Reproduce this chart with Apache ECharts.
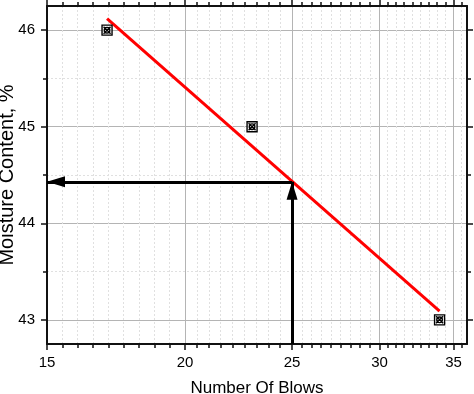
<!DOCTYPE html>
<html>
<head>
<meta charset="utf-8">
<script src="https://cdn.jsdelivr.net/npm/echarts@6/dist/echarts.min.js"></script>
<style>
  html, body { margin: 0; padding: 0; background: #fff; }
  #chart { width: 474px; height: 394px; }
</style>
</head>
<body>
<div id="chart"></div>
<script>
// measured points
const blows = [17, 23, 34];
const moisture = [46, 45, 43];
// fitted line (semi-log) end points
const fitBlows = [17, 34];
const fitMoisture = [46.12, 43.09];
// reading at 25 blows
const readBlows = 25;
const readMoisture = 44.43;

const xTicks = [15, 20, 25, 30, 35];
const yTicks = [43, 44, 45, 46];
const yMinorTicks = [43.5, 44.5, 45.5];
const xMin = 15, xMax = 36;
const yMin = 42.75, yMax = 46.25;

const lx = v => Math.log(v);

// minor x ticks: 8 per major interval, even on the log scale
const xMinor = [];
for (let i = 0; i < xTicks.length - 1; i++) {
  const a = lx(xTicks[i]), b = lx(xTicks[i + 1]);
  for (let k = 1; k <= 8; k++) xMinor.push(a + (b - a) * k / 9);
}
const lastStep = (lx(35) - lx(30)) / 9;
for (let v = lx(35) + lastStep; v < lx(xMax); v += lastStep) xMinor.push(v);

const font = 'Liberation Sans, Arial, sans-serif';
const axisLine = { show: true, lineStyle: { color: '#111', width: 2 } };

function xAxisOf(pos, values, major) {
  return {
    type: 'value', position: pos, min: lx(xMin), max: lx(xMax),
    axisLine: major ? axisLine : { show: false },
    axisTick: { show: true, customValues: values, length: major ? 6 : 4, inside: false,
      lineStyle: { color: '#111', width: 1.5 } },
    axisLabel: pos === 'bottom' && major
      ? { show: true, customValues: xTicks.map(lx), formatter: v => String(Math.round(Math.exp(v))),
          color: '#000', fontSize: 15, fontFamily: font, margin: 11 }
      : { show: false },
    splitLine: pos === 'bottom'
      ? { show: true, lineStyle: major ? { color: '#b4b4b4', width: 1 } : { color: '#e0e0e0', width: 1, type: [2, 2] } }
      : { show: false },
    name: pos === 'bottom' && major ? 'Number Of Blows' : '',
    nameLocation: 'middle', nameGap: 36, nameMoveOverlap: false,
    nameTextStyle: { color: '#000', fontSize: 17, fontFamily: font }
  };
}

function yAxisOf(pos, values, major) {
  return {
    type: 'value', position: pos, min: yMin, max: yMax,
    axisLine: major ? axisLine : { show: false },
    axisTick: { show: true, customValues: values, length: major ? 6 : 4, inside: false,
      lineStyle: { color: '#111', width: 1.5 } },
    axisLabel: pos === 'left' && major
      ? { show: true, customValues: yTicks, color: '#000', fontSize: 15, fontFamily: font, margin: 12 }
      : { show: false },
    splitLine: pos === 'left'
      ? { show: true, lineStyle: major ? { color: '#b4b4b4', width: 1 } : { color: '#e0e0e0', width: 1, type: [2, 2] } }
      : { show: false },
    name: pos === 'left' && major ? 'Moisture Content, %' : '',
    nameLocation: 'middle', nameGap: 30, nameMoveOverlap: false,
    nameTextStyle: { color: '#000', fontSize: 20, fontFamily: font }
  };
}

const chart = echarts.init(document.getElementById('chart'), null, { renderer: 'canvas' });

chart.setOption({
  animation: false,
  grid: { left: 47, right: 7, top: 6, bottom: 50, containLabel: false, outerBoundsMode: 'none' },
  xAxis: [
    xAxisOf('bottom', xMinor, false),
    xAxisOf('bottom', xTicks.map(lx), true),
    xAxisOf('top', xMinor, false),
    xAxisOf('top', xTicks.map(lx), true)
  ],
  yAxis: [
    yAxisOf('left', yMinorTicks, false),
    yAxisOf('left', yTicks, true),
    yAxisOf('right', yMinorTicks, false),
    yAxisOf('right', yTicks, true)
  ],
  series: [
    {
      type: 'line',
      xAxisIndex: 1, yAxisIndex: 1,
      clip: false,
      data: fitBlows.map((b, i) => [lx(b), fitMoisture[i]]),
      symbol: 'none',
      lineStyle: { color: '#ff0000', width: 3 },
      z: 3,
      markLine: {
        silent: true,
        symbol: ['none', 'triangle'],
        symbolSize: [11, 18],
        symbolOffset: [0, [0, 9]],
        label: { show: false },
        lineStyle: { color: '#000', width: 3, type: 'solid' },
        itemStyle: { color: '#000' },
        data: [
          [{ coord: [lx(readBlows), readMoisture] }, { coord: [lx(xMin), readMoisture] }],
          [{ coord: [lx(readBlows), yMin] }, { coord: [lx(readBlows), readMoisture] }]
        ]
      }
    },
    {
      type: 'scatter',
      xAxisIndex: 1, yAxisIndex: 1,
      data: blows.map((b, i) => [lx(b), moisture[i]]),
      symbol: 'path://M0,0L10,0L10,10L0,10Z M1.5,1.5L8.5,8.5 M8.5,1.5L1.5,8.5 M5,2.2A2.8,2.8 0 1,1 4.99,2.2Z',
      symbolSize: 10,
      itemStyle: { color: '#fff', borderColor: '#000', borderWidth: 1.4, opacity: 1 },
      z: 4
    }
  ]
});
</script>
</body>
</html>
